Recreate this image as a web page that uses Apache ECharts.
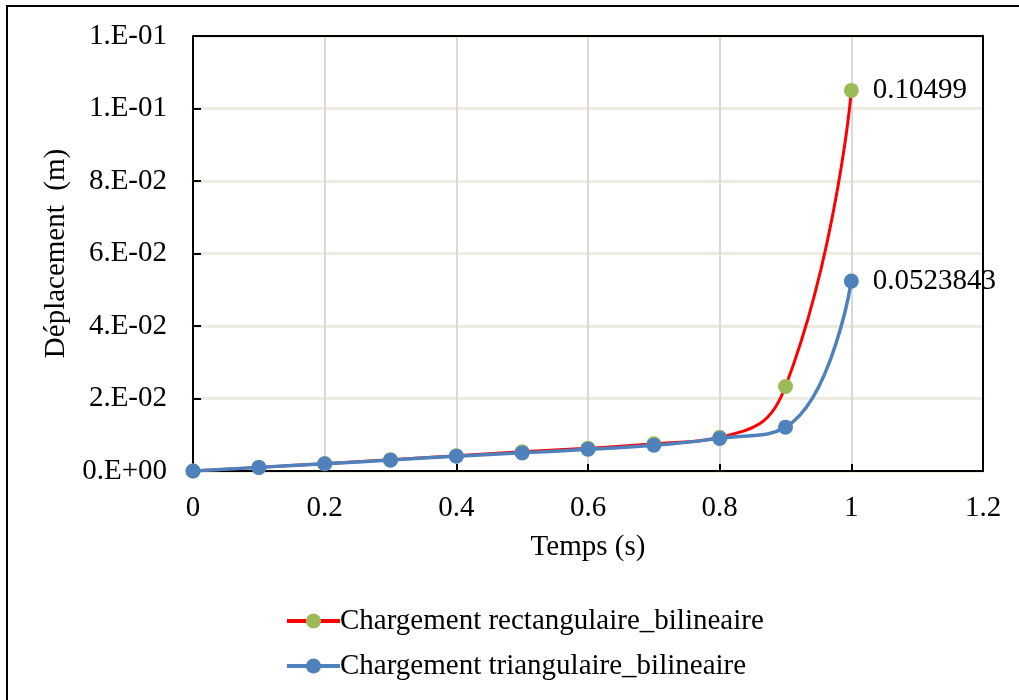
<!DOCTYPE html>
<html>
<head>
<meta charset="utf-8">
<script src="https://cdn.jsdelivr.net/npm/echarts@6/dist/echarts.min.js"></script>
<style>
  html, body { margin: 0; padding: 0; background: #fff; }
  #chart { width: 1019px; height: 700px; }
</style>
</head>
<body>
<div id="chart"></div>
<script>
// Time steps (s)
const temps = [0, 0.1, 0.2, 0.3, 0.4, 0.5, 0.6, 0.7, 0.8, 0.9, 1.0];
// Displacement (m) for each loading case
const rectangulaire = [0, 0.0010, 0.0020, 0.0031, 0.0042, 0.0053, 0.0063, 0.0075, 0.0093, 0.0233, 0.10499];
const triangulaire = [0, 0.0010, 0.0020, 0.0030, 0.0041, 0.0050, 0.0060, 0.0071, 0.0090, 0.0121, 0.0523843];
// Series names
const seriesNames = ['Chargement rectangulaire_bilineaire', 'Chargement triangulaire_bilineaire'];
// Axis tick labels (scientific format, one decimal digit rounding)
const yTickValues = [0, 0.02, 0.04, 0.06, 0.08, 0.10, 0.12];
const yTickLabels = ['0.E+00', '2.E-02', '4.E-02', '6.E-02', '8.E-02', '1.E-01', '1.E-01'];
const xTickLabels = ['0', '0.2', '0.4', '0.6', '0.8', '1', '1.2'];

const FONT = "'Liberation Serif', 'Times New Roman', serif";
const FS = 29;

function pairs(ys) {
  return temps.map((t, i) => [t, ys[i]]);
}

const lastLabel = {
  show: true,
  position: 'right',
  distance: 14,
  fontFamily: FONT,
  fontSize: FS,
  color: '#000',
  formatter: p => (p.dataIndex === temps.length - 1 ? String(p.value[1]) : '')
};

const chart = echarts.init(document.getElementById('chart'), null, { renderer: 'canvas' });

chart.setOption({
  backgroundColor: '#fff',
  animation: false,
  textStyle: { fontFamily: FONT },
  graphic: [
    {
      // outer chart frame
      type: 'rect',
      shape: { x: 7, y: 6, width: 1100, height: 800 },
      style: { fill: 'none', stroke: '#000', lineWidth: 2 },
      silent: true
    },
    {
      // top and right edges of the plot area
      type: 'polyline',
      shape: { points: [[193, 36], [983, 36], [983, 472]] },
      style: { fill: 'none', stroke: '#000', lineWidth: 2 },
      z: 1,
      silent: true
    }
  ],
  grid: {
    left: 193, top: 36, right: 36, bottom: 229
  },
  legend: {
    orient: 'vertical',
    left: 280,
    top: 600,
    itemWidth: 53,
    itemHeight: 19,
    itemGap: 13,
    lineStyle: { width: 4 },
    textStyle: { fontFamily: FONT, fontSize: FS, color: '#000', lineHeight: 32, padding: [0, 0, 0, -5] },
    data: seriesNames
  },
  xAxis: {
    type: 'value',
    min: 0, max: 1.2, interval: 0.2,
    name: 'Temps (s)',
    nameLocation: 'middle',
    nameGap: 62,
    nameTextStyle: { fontFamily: FONT, fontSize: FS, color: '#000' },
    axisLine: { lineStyle: { color: '#000', width: 2 } },
    axisTick: { inside: true, length: 7, lineStyle: { color: '#000', width: 2 } },
    axisLabel: {
      fontFamily: FONT, fontSize: FS, color: '#000', margin: 23,
      formatter: v => xTickLabels[Math.round(v / 0.2)]
    },
    splitLine: { show: true, lineStyle: { color: '#d9d9d9', width: 2 } }
  },
  yAxis: {
    type: 'value',
    min: 0, max: 0.12, interval: 0.02,
    name: 'Déplacement  (m)',
    nameLocation: 'middle',
    nameGap: 120,
    nameRotate: 90,
    nameTextStyle: { fontFamily: FONT, fontSize: FS, color: '#000' },
    axisLine: { show: true, lineStyle: { color: '#000', width: 2 } },
    axisTick: { show: true, inside: true, length: 8, lineStyle: { color: '#000', width: 2 } },
    axisLabel: {
      fontFamily: FONT, fontSize: FS, color: '#000', margin: 26,
      formatter: v => yTickLabels[yTickValues.findIndex(t => Math.abs(t - v) < 1e-9)]
    },
    splitLine: { show: true, lineStyle: { color: '#eeece1', width: 3 } }
  },
  series: [
    {
      name: seriesNames[0],
      type: 'line',
      smooth: 0.5,
      data: pairs(rectangulaire),
      symbol: 'circle',
      symbolSize: 15,
      itemStyle: { color: '#9bbb59' },
      lineStyle: { color: '#ff0000', width: 3 },
      label: lastLabel,
      z: 2
    },
    {
      name: seriesNames[1],
      type: 'line',
      smooth: 0.5,
      data: pairs(triangulaire),
      symbol: 'circle',
      symbolSize: 15,
      itemStyle: { color: '#4f81bd' },
      lineStyle: { color: '#4f81bd', width: 3.5 },
      label: lastLabel,
      z: 3
    }
  ]
});
</script>
</body>
</html>
